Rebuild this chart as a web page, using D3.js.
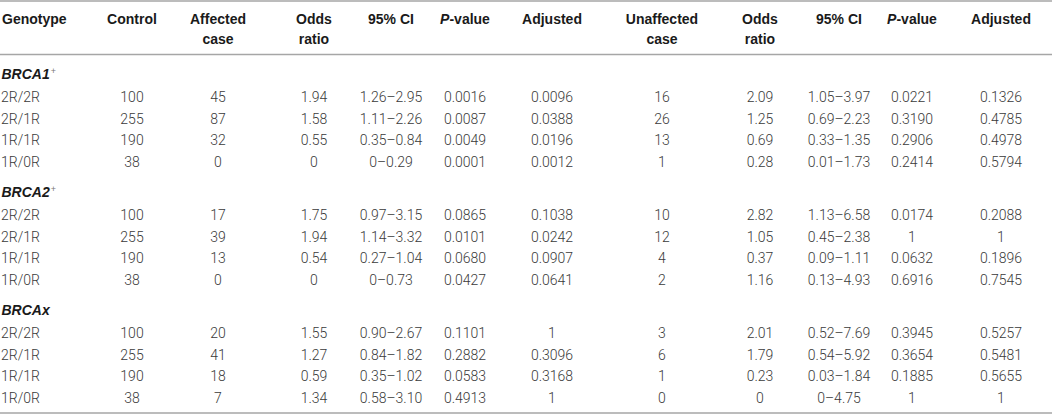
<!DOCTYPE html>
<html>
<head>
<meta charset="utf-8">
<script src="https://cdn.jsdelivr.net/npm/d3@7"></script>
<style>
  html, body { margin: 0; padding: 0; background: #fff; }
  svg { display: block; }
</style>
</head>
<body>
<svg id="chart" width="1052" height="415"></svg>
<script>
// ---------- DATA ----------
const headers = [
  ["Genotype"], ["Control"], ["Affected", "case"], ["Odds", "ratio"], ["95% CI"],
  ["*P*-value"], ["Adjusted"], ["Unaffected", "case"], ["Odds", "ratio"], ["95% CI"],
  ["*P*-value"], ["Adjusted"]
];
const groups = ["BRCA1", "BRCA2", "BRCAx"];
const groupSup = ["+", "+", ""];
const genotypes = ["2R/2R", "2R/1R", "1R/1R", "1R/0R"];
const control = ["100", "255", "190", "38"];

const affectedCase = [
  ["45", "87", "32", "0"],
  ["17", "39", "13", "0"],
  ["20", "41", "18", "7"]
];
const affectedOR = [
  ["1.94", "1.58", "0.55", "0"],
  ["1.75", "1.94", "0.54", "0"],
  ["1.55", "1.27", "0.59", "1.34"]
];
const affectedCI = [
  ["1.26–2.95", "1.11–2.26", "0.35–0.84", "0–0.29"],
  ["0.97–3.15", "1.14–3.32", "0.27–1.04", "0–0.73"],
  ["0.90–2.67", "0.84–1.82", "0.35–1.02", "0.58–3.10"]
];
const affectedP = [
  ["0.0016", "0.0087", "0.0049", "0.0001"],
  ["0.0865", "0.0101", "0.0680", "0.0427"],
  ["0.1101", "0.2882", "0.0583", "0.4913"]
];
const affectedAdj = [
  ["0.0096", "0.0388", "0.0196", "0.0012"],
  ["0.1038", "0.0242", "0.0907", "0.0641"],
  ["1", "0.3096", "0.3168", "1"]
];
const unaffectedCase = [
  ["16", "26", "13", "1"],
  ["10", "12", "4", "2"],
  ["3", "6", "1", "0"]
];
const unaffectedOR = [
  ["2.09", "1.25", "0.69", "0.28"],
  ["2.82", "1.05", "0.37", "1.16"],
  ["2.01", "1.79", "0.23", "0"]
];
const unaffectedCI = [
  ["1.05–3.97", "0.69–2.23", "0.33–1.35", "0.01–1.73"],
  ["1.13–6.58", "0.45–2.38", "0.09–1.11", "0.13–4.93"],
  ["0.52–7.69", "0.54–5.92", "0.03–1.84", "0–4.75"]
];
const unaffectedP = [
  ["0.0221", "0.3190", "0.2906", "0.2414"],
  ["0.0174", "1", "0.0632", "0.6916"],
  ["0.3945", "0.3654", "0.1885", "1"]
];
const unaffectedAdj = [
  ["0.1326", "0.4785", "0.4978", "0.5794"],
  ["0.2088", "1", "0.1896", "0.7545"],
  ["0.5257", "0.5481", "0.5655", "1"]
];

// ---------- LAYOUT ----------
const W = 1052, H = 415;
const svg = d3.select("#chart");
const colX = [2, 132, 218, 314, 391, 465, 552, 662, 760, 839, 912, 1001];
const colAnchor = ["start"].concat(d3.range(11).map(() => "middle"));
const x = d3.scaleOrdinal().domain(d3.range(12)).range(colX);

const groupY = d3.scaleLinear().domain([0, 2]).range([74, 310]);
const rowY = d3.scaleLinear().domain([0, 3]).range([23, 23 + 3 * 21.65]);

const HEAD_FONT = "'Liberation Sans', Arial, sans-serif";
const BODY_FONT = "Roboto, 'Liberation Sans', sans-serif";
const FS = 14;

// rules
const lineColor = "#a6a6a6";
[1, 54.5, 413].forEach(yv => {
  svg.append("line")
    .attr("x1", 0).attr("x2", W)
    .attr("y1", yv).attr("y2", yv)
    .attr("stroke", lineColor).attr("stroke-width", 1.4);
});

// headers
const headLineY = d3.scaleLinear().domain([0, 1]).range([19, 38.5]);
headers.forEach((lines, ci) => {
  lines.forEach((ln, li) => {
    const t = svg.append("text")
      .attr("x", x(ci))
      .attr("y", headLineY(li) + 5)
      .attr("text-anchor", colAnchor[ci])
      .attr("font-family", HEAD_FONT)
      .attr("font-weight", "bold")
      .attr("font-size", FS)
      .attr("fill", "#1a1a1a");
    const parts = ln.split("*");
    parts.forEach((p, pi) => {
      if (!p) return;
      t.append("tspan").text(p).attr("font-style", pi % 2 === 1 ? "italic" : "normal");
    });
  });
});

// body
const cols = [null, null, affectedCase, affectedOR, affectedCI, affectedP, affectedAdj,
              unaffectedCase, unaffectedOR, unaffectedCI, unaffectedP, unaffectedAdj];

groups.forEach((g, gi) => {
  const gy = groupY(gi);
  const gt = svg.append("text")
    .attr("x", 1.5)
    .attr("y", gy + 5)
    .attr("font-family", HEAD_FONT)
    .attr("font-weight", "bold")
    .attr("font-style", "italic")
    .attr("font-size", FS)
    .attr("fill", "#1a1a1a");
  gt.append("tspan").text(g);
  if (groupSup[gi]) {
    gt.append("tspan").text(groupSup[gi])
      .attr("font-size", 9)
      .attr("font-weight", "300")
      .attr("font-style", "normal")
      .attr("fill", "#777")
      .attr("dx", 1)
      .attr("dy", -5);
  }

  genotypes.forEach((gt2, ri) => {
    const y = gy + rowY(ri) + 5;
    const rowVals = [gt2, control[ri]].concat(cols.slice(2).map(c => c[gi][ri]));
    svg.selectAll(null)
      .data(rowVals)
      .enter()
      .append("text")
      .attr("x", (d, i) => x(i) - (i === 0 ? 1 : 0))
      .attr("y", y)
      .attr("text-anchor", (d, i) => colAnchor[i])
      .attr("font-family", BODY_FONT)
      .attr("font-weight", 300)
      .attr("font-size", FS)
      .attr("fill", "#3a3a3a")
      .text(d => d);
  });
});
</script>
</body>
</html>
